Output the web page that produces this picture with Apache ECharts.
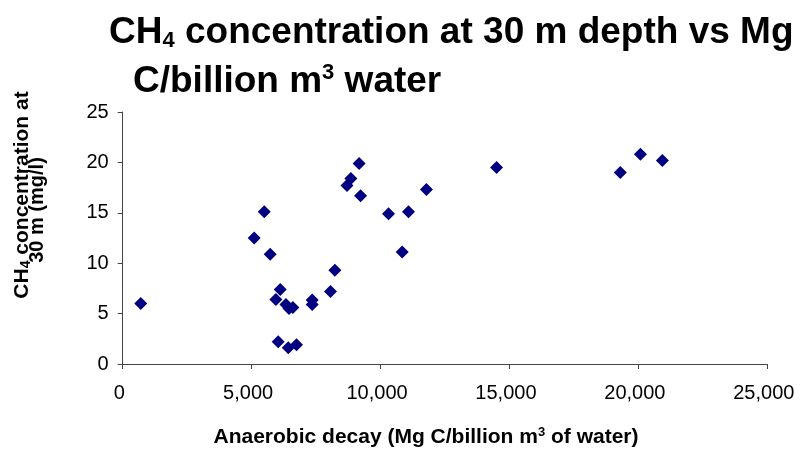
<!DOCTYPE html>
<html>
<head>
<meta charset="utf-8">
<script src="https://cdn.jsdelivr.net/npm/echarts@6/dist/echarts.min.js"></script>
<style>html,body{margin:0;padding:0;background:#fff;}#c{width:801px;height:455px;}</style>
</head>
<body>
<div id="c"></div>
<script>
// Data
var decay = [700, 5100, 5490, 5720, 6110, 5940, 6330, 6450, 6600, 6030, 6420, 6740, 7350, 7350, 8060, 8230, 8700, 8850, 9170, 9225, 10310, 11085, 10840, 11780, 14500, 19300, 20080, 20930];
var ch4   = [6.0, 12.5, 15.1, 10.9, 7.4, 6.4, 5.9, 5.5, 5.6, 2.2, 1.6, 1.9, 6.35, 5.9, 7.2, 9.3, 17.7, 18.4, 19.9, 16.7, 14.9, 15.1, 11.1, 17.3, 19.5, 19.0, 20.8, 20.2];
var xTicks = [0, 5000, 10000, 15000, 20000, 25000];
var yTicks = [0, 5, 10, 15, 20, 25];

var pts = decay.map(function (d, i) { return [d, ch4[i]]; });
var FONT = '"Liberation Sans", Arial, sans-serif';
var chart = echarts.init(document.getElementById('c'), null, { renderer: 'canvas' });
chart.setOption({
  animation: false,
  backgroundColor: '#fff',
  title: [
    {
      left: 104, top: 8,
      text: '{a|CH}{s|4}{a| concentration at 30 m depth vs Mg}',
      textStyle: { rich: {
        a: { fontFamily: FONT, fontWeight: 'bold', fontSize: 37, color: '#000' },
        s: { fontFamily: FONT, fontWeight: 'bold', fontSize: 22, color: '#000', verticalAlign: 'bottom', padding: [17, 0, 0, 0] }
      } }
    },
    {
      left: 128, top: 57,
      text: '{a|C/billion m}{p|3}{a| water}',
      textStyle: { rich: {
        a: { fontFamily: FONT, fontWeight: 'bold', fontSize: 37, color: '#000' },
        p: { fontFamily: FONT, fontWeight: 'bold', fontSize: 22, color: '#000', verticalAlign: 'top', padding: [0, 0, 17, 0] }
      } }
    }
  ],
  grid: { left: 122.7, right: 33.7, top: 112, bottom: 91 },
  xAxis: {
    type: 'value', min: xTicks[0], max: xTicks[xTicks.length - 1], interval: 5000,
    splitLine: { show: false },
    axisLine: { lineStyle: { color: '#444', width: 1 } },
    axisTick: { show: true, length: 5, lineStyle: { color: '#444' } },
    axisLabel: { color: '#000', fontFamily: FONT, fontSize: 20, margin: 19, padding: [0, 7, 0, 0],
      formatter: function (v) { return v.toLocaleString('en-US'); } },
    name: '{a|Anaerobic decay (Mg C/billion m}{p|3}{a| of water)}',
    nameLocation: 'middle', nameGap: 62,
    nameTextStyle: { padding: [0, 38, 0, 0], rich: {
      a: { fontFamily: FONT, fontWeight: 'bold', fontSize: 21, color: '#000' },
      p: { fontFamily: FONT, fontWeight: 'bold', fontSize: 13, color: '#000', verticalAlign: 'top', padding: [0, 0, 10, 0] }
    } }
  },
  yAxis: {
    type: 'value', min: yTicks[0], max: yTicks[yTicks.length - 1], interval: 5,
    splitLine: { show: false },
    axisLine: { show: true, lineStyle: { color: '#444', width: 1 } },
    axisTick: { show: true, length: 5, lineStyle: { color: '#444' } },
    axisLabel: { color: '#000', fontFamily: FONT, fontSize: 20, margin: 14 }
  },
  graphic: [
    {
      type: 'text', x: 22, y: 195, rotation: Math.PI / 2,
      style: { text: '{a|CH}{s|4}{a| concentration at}', align: 'center', verticalAlign: 'middle',
        rich: {
          a: { fontFamily: FONT, fontWeight: 'bold', fontSize: 21, fill: '#000' },
          s: { fontFamily: FONT, fontWeight: 'bold', fontSize: 14, fill: '#000', verticalAlign: 'bottom', padding: [9, 0, 0, 0] }
        } }
    },
    {
      type: 'text', x: 37, y: 210, rotation: Math.PI / 2,
      style: { text: '30 m (mg/l)', align: 'center', verticalAlign: 'middle',
        font: 'bold 20px ' + FONT, fill: '#000' }
    }
  ],
  series: [{
    type: 'scatter',
    data: pts,
    symbol: 'diamond',
    symbolSize: 13,
    itemStyle: { color: '#000080', opacity: 1 }
  }]
});
</script>
</body>
</html>
